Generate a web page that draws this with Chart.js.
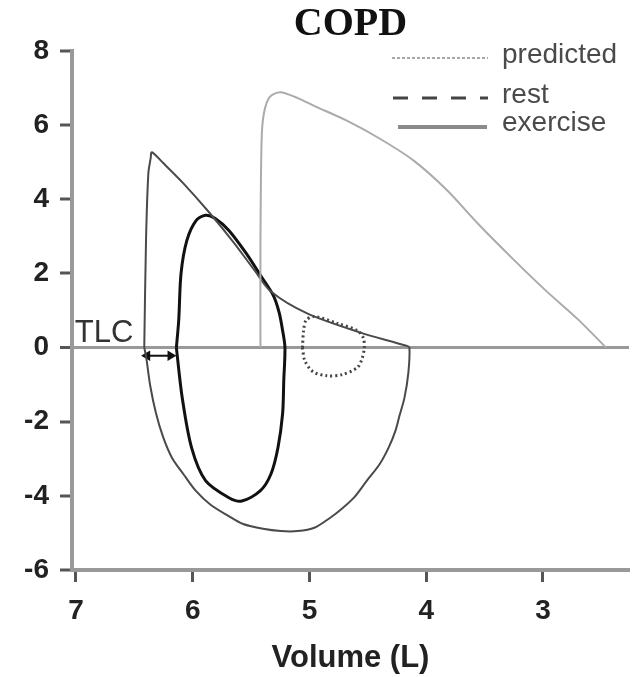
<!DOCTYPE html>
<html>
<head>
<meta charset="utf-8">
<script src="https://cdn.jsdelivr.net/npm/chart.js@4"></script>
<style>
  body { margin: 0; background: #fff; }
  #chart { display: block; }
</style>
</head>
<body>
<canvas id="chart" width="635" height="677"></canvas>
<script>
// flow-volume loops (volume in L, flow in L/s)
const predictedVol  = [5.42, 5.42, 5.41, 5.39, 5.34, 5.25, 5.10, 4.96, 4.68, 4.40, 4.11, 3.83, 3.55, 3.26, 2.98, 2.70, 2.46];
const predictedFlow = [0, 2.62, 5.59, 6.32, 6.76, 6.89, 6.73, 6.52, 6.12, 5.64, 5.05, 4.27, 3.32, 2.40, 1.55, 0.76, 0];

const maxLoopVol  = [6.415, 6.40, 6.38, 6.36, 6.35, 6.25, 6.08, 5.86, 5.65, 5.47, 5.33, 5.02, 4.57, 4.17, 4.144,
                     4.153, 4.186, 4.229, 4.263, 4.322, 4.398, 4.508, 4.619, 4.712, 4.822, 4.958, 5.102, 5.246, 5.398,
                     5.568, 5.695, 5.847, 5.975, 6.076, 6.178, 6.254, 6.314, 6.364, 6.398, 6.415];
const maxLoopFlow = [0, 2.89, 4.70, 5.11, 5.27, 4.97, 4.43, 3.65, 2.84, 2.08, 1.51, 0.92, 0.41, 0.05, 0,
                     -0.68, -1.35, -1.84, -2.24, -2.70, -3.14, -3.59, -4.05, -4.32, -4.59, -4.86, -4.95, -4.95, -4.89,
                     -4.76, -4.54, -4.24, -3.86, -3.43, -2.97, -2.41, -1.78, -1.03, -0.27, 0];

const exerciseVol  = [6.14, 6.12, 6.10, 6.05, 5.97, 5.89, 5.81, 5.69, 5.53, 5.42, 5.31, 5.26, 5.23, 5.21,
                      5.22, 5.23, 5.27, 5.33, 5.42, 5.58, 5.69, 5.89, 6.01, 6.09, 6.14];
const exerciseFlow = [0, 0.73, 2.00, 2.89, 3.43, 3.57, 3.49, 3.16, 2.49, 1.95, 1.41, 0.95, 0.46, 0,
                      -0.89, -1.78, -2.70, -3.41, -3.86, -4.14, -4.05, -3.59, -2.70, -1.35, 0];

const restVol  = [5.06, 5.05, 5.03, 4.96, 4.76, 4.59, 4.54, 4.53, 4.55, 4.59, 4.72, 4.85, 4.97, 5.04, 5.06];
const restFlow = [0, 0.46, 0.73, 0.84, 0.65, 0.46, 0.27, 0, -0.30, -0.54, -0.73, -0.76, -0.65, -0.35, 0];

// little arrow between TLC and the exercise loop
const arrowVol  = [6.39, 6.19];
const arrowFlow = [-0.22, -0.22];

const volTicks = [7, 6, 5, 4, 3];
const legendLabels = ['predicted', 'rest', 'exercise'];
const tlcLabel = { text: 'TLC', vol: 7.01, flow: 0.38 };

function toPoints(xs, ys) {
    return xs.map((x, i) => ({ x: x, y: ys[i] }));
}

const SANS = "'Liberation Sans', Arial, sans-serif";

// legend with line samples, top right inside the plot
const legendPlugin = {
    id: 'lineLegend',
    afterDraw(chart) {
        const ctx = chart.ctx;
        const styles = [
            { y: 58, x1: 392, x2: 488, color: '#a8a8a8', width: 2, dash: [3, 2], textY: 63 },
            { y: 98, x1: 393, x2: 488, color: '#444', width: 3, dash: [15, 14], textY: 103 },
            { y: 127, x1: 398, x2: 487, color: '#8a8a8a', width: 4, dash: [], textY: 131 }
        ];
        ctx.save();
        legendLabels.forEach((label, i) => {
            const s = styles[i];
            ctx.beginPath();
            ctx.setLineDash(s.dash);
            ctx.strokeStyle = s.color;
            ctx.lineWidth = s.width;
            ctx.moveTo(s.x1, s.y);
            ctx.lineTo(s.x2, s.y);
            ctx.stroke();
            ctx.setLineDash([]);
            ctx.fillStyle = '#4a4a4a';
            ctx.font = '28px ' + SANS;
            ctx.textAlign = 'left';
            ctx.textBaseline = 'alphabetic';
            ctx.fillText(label, 502, s.textY);
        });
        // TLC annotation
        const xs = chart.scales.x, ys = chart.scales.y;
        ctx.fillStyle = '#333';
        ctx.font = '31px ' + SANS;
        ctx.textBaseline = 'middle';
        ctx.fillText(tlcLabel.text, xs.getPixelForValue(tlcLabel.vol), ys.getPixelForValue(tlcLabel.flow));
        ctx.restore();
    }
};

new Chart(document.getElementById('chart'), {
    type: 'scatter',
    data: {
        datasets: [
            {
                label: 'predicted',
                data: toPoints(predictedVol, predictedFlow),
                showLine: true,
                borderColor: '#ababab',
                borderWidth: 2,
                tension: 0.3,
                pointRadius: 0
            },
            {
                label: 'maximal',
                data: toPoints(maxLoopVol, maxLoopFlow),
                showLine: true,
                borderColor: '#4a4a4a',
                borderWidth: 2,
                tension: 0.3,
                pointRadius: 0
            },
            {
                label: 'exercise',
                data: toPoints(exerciseVol, exerciseFlow),
                showLine: true,
                borderColor: '#111',
                borderWidth: 3,
                tension: 0.3,
                pointRadius: 0
            },
            {
                label: 'rest',
                data: toPoints(restVol, restFlow),
                showLine: true,
                borderColor: '#444',
                borderWidth: 3,
                borderDash: [2, 3],
                tension: 0.3,
                pointRadius: 0
            },
            {
                label: 'arrow',
                data: toPoints(arrowVol, arrowFlow),
                showLine: true,
                borderColor: '#111',
                borderWidth: 2,
                pointStyle: 'triangle',
                pointRadius: 4,
                rotation: [-90, 90],
                pointBackgroundColor: '#111',
                pointBorderColor: '#111'
            }
        ]
    },
    options: {
        responsive: false,
        animation: false,
        layout: { padding: 0 },
        plugins: {
            legend: { display: false },
            tooltip: { enabled: false },
            title: {
                display: true,
                text: 'COPD',
                fullSize: false,
                color: '#111',
                font: { family: "'Liberation Serif', 'Times New Roman', serif", size: 40, weight: 'bold' },
                padding: { top: 1, bottom: 2 }
            }
        },
        scales: {
            x: {
                type: 'linear',
                reverse: true,
                min: 2.263,
                max: 7.034,
                afterBuildTicks: (scale) => { scale.ticks = volTicks.map(v => ({ value: v })); },
                afterFit: (scale) => { scale.height = 107; },
                border: { color: '#999', width: 4 },
                grid: { drawOnChartArea: false, tickLength: 12, tickColor: '#555', tickWidth: 3 },
                ticks: {
                    color: '#222',
                    padding: 12,
                    font: { family: SANS, size: 28, weight: 'bold' }
                },
                title: {
                    display: true,
                    text: 'Volume (L)',
                    color: '#222',
                    font: { family: SANS, size: 31, weight: 'bold' },
                    padding: { top: 0, bottom: 0 }
                }
            },
            y: {
                type: 'linear',
                min: -6,
                max: 8,
                afterFit: (scale) => { scale.width = 72; },
                border: { color: '#999', width: 4 },
                grid: {
                    drawOnChartArea: true,
                    color: (c) => (c.tick && c.tick.value === 0 ? '#999' : 'rgba(0,0,0,0)'),
                    lineWidth: (c) => (c.tick && c.tick.value === 0 ? 3 : 0),
                    tickLength: 12,
                    tickColor: '#555',
                    tickWidth: 3
                },
                ticks: {
                    stepSize: 2,
                    color: '#222',
                    padding: 11,
                    font: { family: SANS, size: 28, weight: 'bold' }
                }
            }
        }
    },
    plugins: [legendPlugin]
});
</script>
</body>
</html>
